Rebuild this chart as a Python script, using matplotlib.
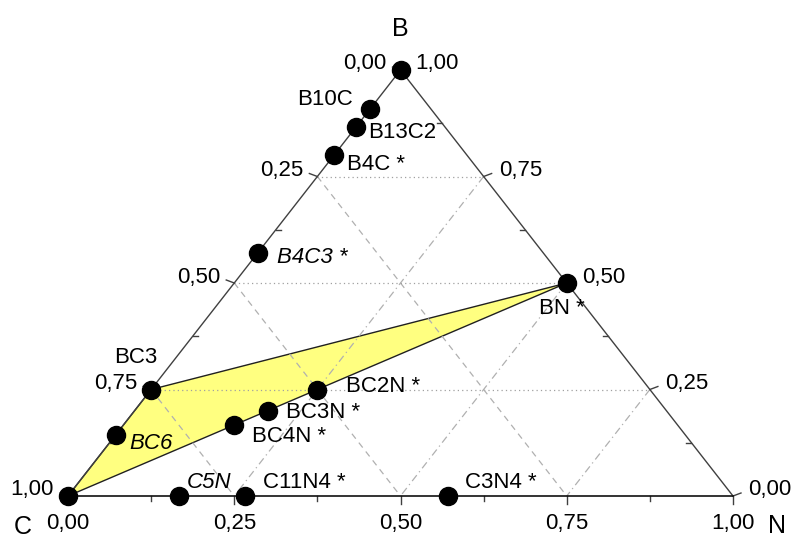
import matplotlib.pyplot as plt
import numpy as np

plt.rcParams['font.family'] = ['Liberation Sans', 'DejaVu Sans']

# compounds: atom counts of B, C, N
names = ['B', 'B10C', 'B13C2', 'B4C *', 'B4C3 *', 'BN *', 'BC3', 'BC6', 'C',
         'BC2N *', 'BC3N *', 'BC4N *', 'C5N', 'C11N4 *', 'C3N4 *']
n_b = [1, 10, 13, 4, 4, 1, 1, 1, 0, 1, 1, 1, 0, 0, 0]
n_c = [0, 1, 2, 1, 3, 0, 3, 6, 1, 2, 3, 4, 5, 11, 3]
n_n = [0, 0, 0, 0, 0, 1, 0, 0, 0, 1, 1, 1, 1, 4, 4]
italic = ['B4C3 *', 'BC6', 'C5N']
# label offsets in pixels (dx, dy up), alignment
lab_pos = {
    'B10C': (-17, 9, 'right'), 'B13C2': (12, -6, 'left'), 'B4C *': (13, -9, 'left'),
    'B4C3 *': (19, -5, 'left'), 'BN *': (-28, -25, 'left'), 'BC3': (-15, 32, 'center'),
    'BC6': (14, -8, 'left'), 'C5N': (8, 14, 'left'), 'C11N4 *': (18, 14, 'left'),
    'C3N4 *': (17, 14, 'left'), 'BC2N *': (29, 3, 'left'), 'BC3N *': (19, -2, 'left'),
    'BC4N *': (18, -12, 'left'),
}
# stability region: C - BC3 - BN
region = ['C', 'BC3', 'BN *']
grid_vals = [0.25, 0.5, 0.75]
tick_vals = [0.0, 0.25, 0.5, 0.75, 1.0]
tick_labels = ['0,00', '0,25', '0,50', '0,75', '1,00']
minor_vals = [0.125, 0.375, 0.625, 0.875]


def tern(b, c, n):
    s = b + c + n
    b, n = b / s, n / s
    return n + b / 2.0, b


fig = plt.figure(figsize=(7.93, 5.39), dpi=100)
ax = fig.add_axes([68 / 793, 43 / 539, 665 / 793, 426 / 539])
ax.set_xlim(0, 1)
ax.set_ylim(0, 1)
ax.axis('off')
PX, PY = 1 / 665, 1 / 426
FS = 16

xs, ys = [], []
for b, c, n in zip(n_b, n_c, n_n):
    x, y = tern(b, c, n)
    xs.append(x)
    ys.append(y)

# yellow region
poly = [(xs[names.index(r)], ys[names.index(r)]) for r in region]
ax.add_patch(plt.Polygon(poly, closed=True, facecolor='#ffff80', edgecolor='#202020',
                         lw=1, zorder=1, clip_on=False))

# grid
for v in grid_vals:
    p1, p2 = tern(v, 1 - v, 0), tern(v, 0, 1 - v)
    ax.plot([p1[0], p2[0]], [p1[1], p2[1]], color='#a0a0a0', lw=0.9, ls=(0, (1, 2.5)), zorder=2)
    p1, p2 = tern(1 - v, v, 0), tern(0, v, 1 - v)
    ax.plot([p1[0], p2[0]], [p1[1], p2[1]], color='#b0b0b0', lw=0.9, ls=(0, (5, 4)), zorder=2)
    p1, p2 = tern(1 - v, 0, v), tern(0, 1 - v, v)
    ax.plot([p1[0], p2[0]], [p1[1], p2[1]], color='#b0b0b0', lw=0.9, ls=(0, (6, 3, 1, 3)), zorder=2)

# triangle frame
cx, cy = tern(0, 1, 0)
nx, ny = tern(0, 0, 1)
bx, by = tern(1, 0, 0)
ax.plot([cx, bx, nx], [cy, by, ny], color='#404040', lw=1, zorder=3, clip_on=False)
ax.plot([cx, nx], [cy, ny], color='#101010', lw=1.2, zorder=3, clip_on=False)

# ticks and labels
for v, t in zip(tick_vals, tick_labels):
    # left side: C fraction
    x, y = tern(1 - v, v, 0)
    ax.plot([x, x - 8 * PX], [y, y + 3 * PY], color='#404040', lw=1, clip_on=False)
    ax.text(x - 14 * PX, y + 6 * PY, t, ha='right', va='center', fontsize=FS)
    # right side: B fraction
    x, y = tern(v, 0, 1 - v)
    ax.plot([x, x + 8 * PX], [y, y + 3 * PY], color='#404040', lw=1, clip_on=False)
    ax.text(x + 15 * PX, y + 6 * PY, t, ha='left', va='center', fontsize=FS)
    # bottom: N fraction
    x, y = tern(0, 1 - v, v)
    ax.plot([x, x], [y, y - 8 * PY], color='#404040', lw=1, clip_on=False)
    ax.text(x, y - 28 * PY, t, ha='center', va='center', fontsize=FS)
for v in minor_vals:
    x, y = tern(1 - v, v, 0)
    ax.plot([x, x + 5 * PX], [y, y], color='#404040', lw=1)
    x, y = tern(v, 0, 1 - v)
    ax.plot([x, x - 5 * PX], [y, y], color='#404040', lw=1)
    x, y = tern(0, 1 - v, v)
    ax.plot([x, x], [y, y - 5 * PY], color='#404040', lw=1, clip_on=False)

# corner labels
ax.text(bx, by + 41 * PY, 'B', ha='center', va='center', fontsize=18)
ax.text(cx - 45 * PX, cy - 31 * PY, 'C', ha='center', va='center', fontsize=18, clip_on=False)
ax.text(nx + 44 * PX, ny - 30 * PY, 'N', ha='center', va='center', fontsize=18, clip_on=False)

# compounds
ax.plot(xs, ys, 'o', color='black', markersize=13, zorder=5, clip_on=False)
for name, x, y in zip(names, xs, ys):
    if name not in lab_pos:
        continue
    dx, dy, ha = lab_pos[name]
    ax.annotate(name, (x, y), xytext=(dx, dy), textcoords='offset pixels',
                ha=ha, va='center', fontsize=FS,
                style='italic' if name in italic else 'normal', zorder=6)

plt.savefig('out.png', dpi=100)
